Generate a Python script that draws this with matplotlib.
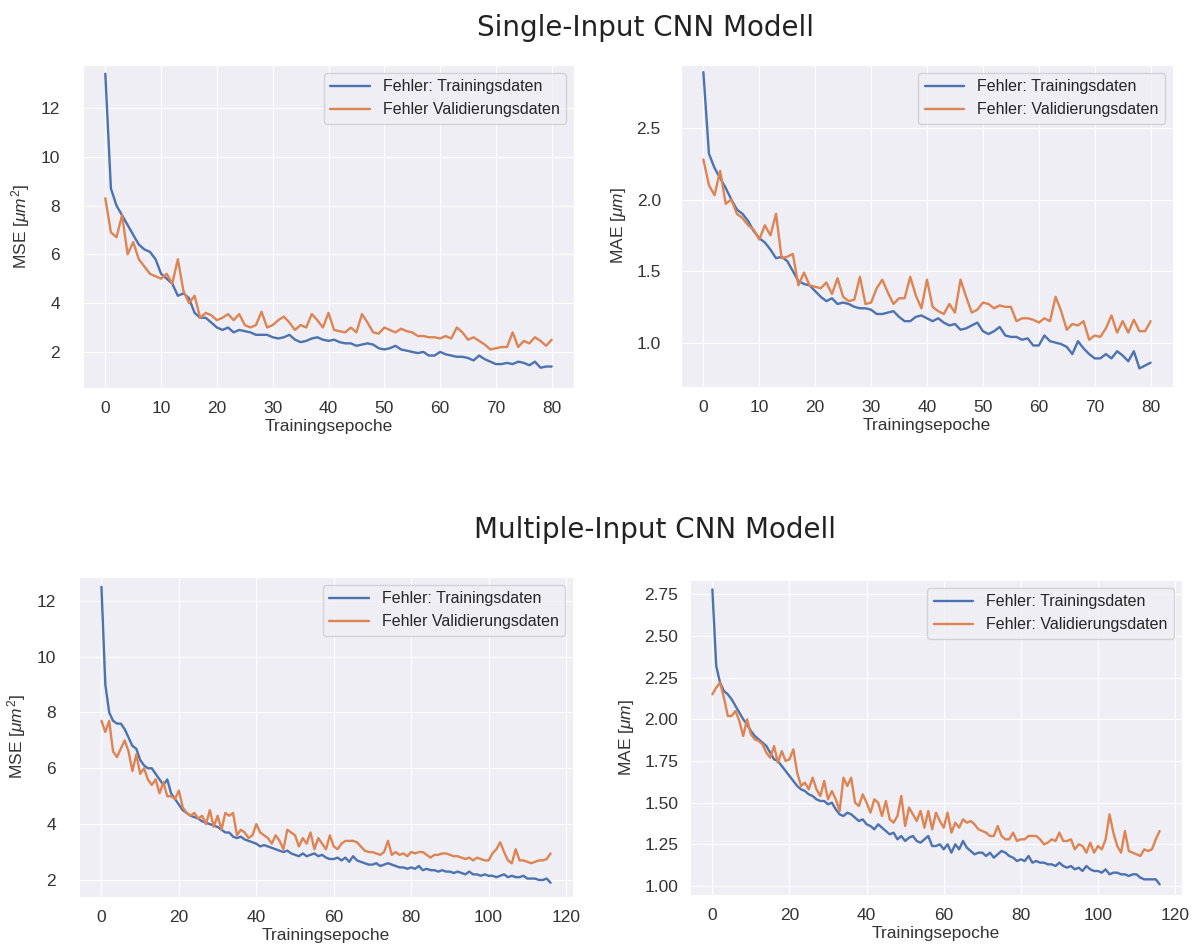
import matplotlib
matplotlib.use("Agg")
import matplotlib.pyplot as plt
import seaborn as sns
import numpy as np

# Single-Input model, 81 epochs
single_mse_train = [13.4, 8.7, 8.0, 7.6, 7.2, 6.8, 6.4, 6.2, 6.1, 5.8,
                    5.2, 5.0, 4.8, 4.3, 4.4, 4.2, 3.6, 3.4, 3.4, 3.2,
                    3.0, 2.9, 3.0, 2.8, 2.9, 2.85, 2.8, 2.7, 2.7, 2.7,
                    2.6, 2.55, 2.6, 2.7, 2.5, 2.4, 2.45, 2.55, 2.6, 2.5,
                    2.45, 2.5, 2.4, 2.35, 2.35, 2.25, 2.3, 2.35, 2.3, 2.15,
                    2.1, 2.15, 2.25, 2.1, 2.05, 2.0, 1.95, 2.0, 1.85, 1.85,
                    2.0, 1.9, 1.85, 1.8, 1.8, 1.75, 1.65, 1.85, 1.7, 1.6,
                    1.5, 1.5, 1.55, 1.5, 1.6, 1.55, 1.45, 1.6, 1.35, 1.4,
                    1.4]
single_mse_val = [8.3, 6.9, 6.7, 7.6, 6.0, 6.5, 5.8, 5.5, 5.2, 5.1,
                  5.0, 5.2, 4.8, 5.8, 4.5, 4.0, 4.3, 3.4, 3.6, 3.5,
                  3.3, 3.4, 3.55, 3.3, 3.55, 3.1, 3.0, 3.1, 3.65, 3.0,
                  3.1, 3.3, 3.45, 3.2, 2.9, 3.1, 3.0, 3.55, 3.3, 3.0,
                  3.6, 2.9, 2.85, 2.8, 3.0, 2.8, 3.55, 3.2, 2.8, 2.75,
                  3.0, 2.9, 2.8, 2.95, 2.85, 2.8, 2.65, 2.65, 2.6, 2.6,
                  2.55, 2.65, 2.55, 3.0, 2.8, 2.5, 2.6, 2.45, 2.3, 2.1,
                  2.15, 2.2, 2.2, 2.8, 2.2, 2.45, 2.35, 2.6, 2.45, 2.25,
                  2.5]
single_mae_train = [2.89, 2.32, 2.22, 2.15, 2.08, 2.0, 1.93, 1.9, 1.85, 1.78,
                    1.73, 1.7, 1.65, 1.59, 1.6, 1.57, 1.5, 1.43, 1.41, 1.4,
                    1.36, 1.32, 1.29, 1.31, 1.27, 1.28, 1.27, 1.25, 1.24, 1.24,
                    1.23, 1.2, 1.2, 1.21, 1.22, 1.18, 1.15, 1.15, 1.18, 1.19,
                    1.17, 1.15, 1.17, 1.14, 1.12, 1.13, 1.09, 1.1, 1.12, 1.14,
                    1.08, 1.06, 1.08, 1.11, 1.05, 1.04, 1.04, 1.02, 1.03, 0.98,
                    0.98, 1.05, 1.01, 1.0, 0.99, 0.97, 0.92, 1.01, 0.96, 0.92,
                    0.89, 0.89, 0.92, 0.89, 0.94, 0.91, 0.87, 0.94, 0.82, 0.84,
                    0.86]
single_mae_val = [2.28, 2.1, 2.03, 2.2, 1.97, 2.0, 1.9, 1.87, 1.82, 1.79,
                  1.72, 1.82, 1.75, 1.9, 1.59, 1.6, 1.62, 1.4, 1.49, 1.4,
                  1.39, 1.38, 1.42, 1.34, 1.45, 1.32, 1.29, 1.3, 1.46, 1.27,
                  1.28, 1.38, 1.44, 1.35, 1.27, 1.31, 1.31, 1.46, 1.33, 1.24,
                  1.44, 1.25, 1.22, 1.2, 1.27, 1.21, 1.44, 1.32, 1.21, 1.23,
                  1.28, 1.27, 1.24, 1.26, 1.25, 1.25, 1.15, 1.17, 1.17, 1.16,
                  1.14, 1.17, 1.15, 1.32, 1.22, 1.09, 1.13, 1.12, 1.15, 1.02,
                  1.05, 1.04, 1.1, 1.19, 1.07, 1.15, 1.07, 1.16, 1.08, 1.08,
                  1.15]

# Multiple-Input model, 117 epochs
multi_mse_train = [12.5, 9.0, 8.0, 7.7, 7.6, 7.6, 7.4, 7.1, 6.8, 6.7,
                   6.3, 6.1, 6.0, 6.0, 5.8, 5.6, 5.4, 5.6, 5.1, 4.9,
                   4.7, 4.5, 4.4, 4.3, 4.25, 4.2, 4.1, 4.05, 4.0, 3.95,
                   3.9, 3.8, 3.7, 3.7, 3.55, 3.5, 3.55, 3.45, 3.4, 3.35,
                   3.3, 3.2, 3.25, 3.2, 3.15, 3.1, 3.05, 3.0, 3.05, 2.95,
                   2.9, 2.85, 2.95, 2.85, 2.9, 2.95, 2.85, 2.9, 2.8, 2.75,
                   2.75, 2.8, 2.7, 2.8, 2.65, 2.85, 2.7, 2.65, 2.6, 2.55,
                   2.55, 2.6, 2.5, 2.55, 2.6, 2.55, 2.5, 2.45, 2.45, 2.4,
                   2.45, 2.4, 2.5, 2.35, 2.4, 2.35, 2.35, 2.3, 2.35, 2.3,
                   2.3, 2.25, 2.3, 2.25, 2.2, 2.3, 2.2, 2.2, 2.15, 2.2,
                   2.15, 2.15, 2.1, 2.15, 2.2, 2.1, 2.15, 2.1, 2.1, 2.15,
                   2.05, 2.05, 2.05, 2.0, 2.0, 2.05, 1.9]
multi_mse_val = [7.7, 7.3, 7.7, 6.6, 6.4, 6.7, 7.0, 6.6, 5.9, 6.5,
                 5.8, 6.0, 5.6, 5.4, 5.6, 5.1, 5.5, 5.0, 5.0, 4.9,
                 5.2, 4.6, 4.4, 4.3, 4.4, 4.2, 4.3, 4.0, 4.5, 3.9,
                 4.3, 3.8, 4.4, 4.3, 4.4, 3.6, 3.8, 3.7, 3.5, 3.6,
                 4.0, 3.7, 3.6, 3.5, 3.3, 3.6, 3.4, 3.1, 3.8, 3.7,
                 3.6, 3.2, 3.5, 3.3, 3.7, 3.1, 3.5, 3.3, 3.1, 3.6,
                 3.2, 3.1, 3.3, 3.4, 3.4, 3.4, 3.35, 3.2, 3.05, 3.0,
                 3.0, 2.95, 2.9, 3.0, 3.4, 2.9, 3.0, 2.9, 2.95, 2.85,
                 3.0, 2.95, 3.0, 3.0, 2.9, 2.8, 2.9, 2.9, 2.95, 2.95,
                 2.9, 2.85, 2.85, 2.8, 2.75, 2.8, 2.7, 2.8, 2.75, 2.7,
                 2.7, 2.95, 3.1, 3.35, 3.0, 2.7, 2.6, 3.1, 2.7, 2.7,
                 2.65, 2.6, 2.65, 2.7, 2.7, 2.75, 2.95]
multi_mae_train = [2.78, 2.32, 2.22, 2.17, 2.15, 2.12, 2.08, 2.04, 2.0, 1.97,
                   1.93, 1.9, 1.88, 1.86, 1.84, 1.8, 1.76, 1.75, 1.72, 1.69,
                   1.66, 1.63, 1.6, 1.58, 1.57, 1.55, 1.54, 1.52, 1.51, 1.51,
                   1.49, 1.5, 1.46, 1.43, 1.42, 1.44, 1.43, 1.41, 1.39, 1.4,
                   1.37, 1.36, 1.34, 1.37, 1.35, 1.33, 1.31, 1.32, 1.28, 1.3,
                   1.27, 1.29, 1.3, 1.27, 1.26, 1.28, 1.3, 1.24, 1.24, 1.25,
                   1.22, 1.25, 1.2, 1.25, 1.22, 1.27, 1.23, 1.21, 1.19, 1.2,
                   1.2, 1.18, 1.2, 1.17, 1.19, 1.21, 1.2, 1.18, 1.17, 1.15,
                   1.16, 1.15, 1.18, 1.14, 1.15, 1.14, 1.14, 1.13, 1.13, 1.12,
                   1.14, 1.12, 1.11, 1.12, 1.1, 1.11, 1.09, 1.12, 1.1, 1.09,
                   1.09, 1.08, 1.1, 1.07, 1.08, 1.08, 1.07, 1.07, 1.06, 1.07,
                   1.07, 1.05, 1.04, 1.04, 1.04, 1.04, 1.01]
multi_mae_val = [2.15, 2.19, 2.22, 2.13, 2.02, 2.02, 2.05, 1.99, 1.9, 2.0,
                 1.91, 1.88, 1.87, 1.85, 1.8, 1.77, 1.84, 1.74, 1.81, 1.75,
                 1.76, 1.82, 1.68, 1.6, 1.62, 1.58, 1.65, 1.58, 1.54, 1.63,
                 1.52, 1.57, 1.52, 1.45, 1.65, 1.6, 1.65, 1.5, 1.48, 1.55,
                 1.5, 1.44, 1.52, 1.5, 1.42, 1.51, 1.4, 1.38, 1.42, 1.54,
                 1.36, 1.47, 1.43, 1.39, 1.45, 1.35, 1.45, 1.34, 1.44, 1.39,
                 1.35, 1.44, 1.32, 1.38, 1.35, 1.4, 1.38, 1.39, 1.37, 1.34,
                 1.33, 1.32, 1.3, 1.3, 1.36, 1.3, 1.28, 1.28, 1.32, 1.27,
                 1.28, 1.28, 1.3, 1.3, 1.3, 1.28, 1.25, 1.26, 1.28, 1.27,
                 1.32, 1.27, 1.27, 1.28, 1.22, 1.25, 1.24, 1.2, 1.26, 1.2,
                 1.24, 1.22, 1.28, 1.43, 1.32, 1.24, 1.2, 1.33, 1.21, 1.2,
                 1.19, 1.18, 1.22, 1.21, 1.22, 1.28, 1.33]

lbl_train = "Fehler: Trainingsdaten"
lbl_val_mse = "Fehler Validierungsdaten"
lbl_val_mae = "Fehler: Validierungsdaten"

sns.set_style("darkgrid", {"axes.facecolor": "#eeeef4"})
plt.rcParams["font.family"] = ["Liberation Sans", "DejaVu Sans"]
plt.rcParams["mathtext.fontset"] = "custom"
plt.rcParams["mathtext.rm"] = "Liberation Sans"
plt.rcParams["mathtext.it"] = "Liberation Sans:italic"

blue = "#4c72b0"
orange = "#dd8452"
W, H = 1198, 947

fig = plt.figure(figsize=(W / 100, H / 100), dpi=100)


def px_rect(left, top, right, bottom):
    # pixel box (origin top-left) -> figure fraction rect
    return [left / W, 1 - bottom / H, (right - left) / W, (bottom - top) / H]


# (pixel box, train, val, val label, ylabel, yticks, ylim, xticks, ytick pad)
panels = [
    ((83, 65, 574, 388), single_mse_train, single_mse_val, lbl_val_mse,
     "MSE [$\\mu m^2$]", [2, 4, 6, 8, 10, 12], (0.52, 13.76), np.arange(0, 81, 10), 13),
    ((681, 65, 1173, 387), single_mae_train, single_mae_val, lbl_val_mae,
     "MAE [$\\mu m$]", [1.0, 1.5, 2.0, 2.5], (0.69, 2.94), np.arange(0, 81, 10), 11),
    ((79, 577, 573, 897), multi_mse_train, multi_mse_val, lbl_val_mse,
     "MSE [$\\mu m^2$]", [2, 4, 6, 8, 10, 12], (1.39, 12.85), np.arange(0, 121, 20), 13),
    ((690, 580, 1182, 895), multi_mae_train, multi_mae_val, lbl_val_mae,
     "MAE [$\\mu m$]", [1.0, 1.25, 1.5, 1.75, 2.0, 2.25, 2.5, 2.75], (0.946, 2.836),
     np.arange(0, 121, 20), 5),
]

for box, train, val, val_label, ylabel, yticks, ylim, xticks, ypad in panels:
    ax = fig.add_axes(px_rect(*box))
    ep = np.arange(len(train))
    ax.plot(ep, train, color=blue, lw=1.7, label=lbl_train)
    ax.plot(ep, val, color=orange, lw=1.7, label=val_label)
    ax.set_xlim(-0.05 * ep[-1], 1.05 * ep[-1])
    ax.set_ylim(*ylim)
    ax.set_xticks(xticks)
    ax.set_yticks(yticks)
    if len(yticks) > 6:
        ax.set_yticklabels([f"{v:.2f}" for v in yticks])
    elif isinstance(yticks[0], float):
        ax.set_yticklabels([f"{v:.1f}" for v in yticks])
    ax.tick_params(axis="both", labelsize=12.5, colors="#333333")
    ax.tick_params(axis="x", pad=6)
    ax.tick_params(axis="y", pad=ypad)
    ax.set_xlabel("Trainingsepoche", fontsize=12.5, color="#333333", labelpad=2)
    ax.set_ylabel(ylabel, fontsize=12.5, color="#333333", labelpad=6)
    ax.legend(loc="upper right", fontsize=11.5, frameon=True, handlelength=2.5)

fig.text(0.539, 0.970, "Single-Input CNN Modell", ha="center", va="center",
         fontsize=20, family="DejaVu Sans", color="#222222")
fig.text(0.547, 0.440, "Multiple-Input CNN Modell", ha="center", va="center",
         fontsize=20, family="DejaVu Sans", color="#222222")

fig.savefig("out.png", dpi=100)
